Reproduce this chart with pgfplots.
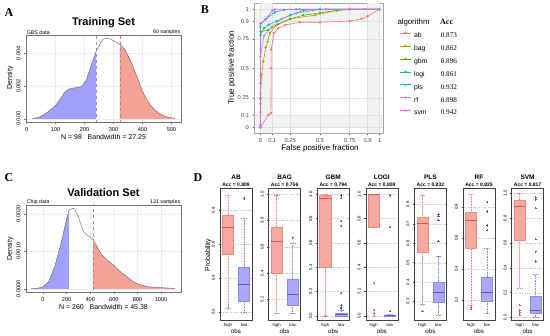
\documentclass[border=0pt]{standalone}
\usepackage{pgfplots}
\pgfplotsset{compat=1.18}
\usepgfplotslibrary{statistics}
\usepackage{fontspec}
\setmainfont{Liberation Sans}
\newfontfamily\serifF{Liberation Serif}
\newcommand\fs[1]{\fontsize{#1}{#1}\selectfont}
\definecolor{cab}{HTML}{F8766D}
\definecolor{cbag}{HTML}{C49A00}
\definecolor{cgbm}{HTML}{53B400}
\definecolor{clogi}{HTML}{00C094}
\definecolor{cpls}{HTML}{00B6EB}
\definecolor{crf}{HTML}{A58AFF}
\definecolor{csvm}{HTML}{FB61D7}
\definecolor{hiF}{HTML}{F5A9A1}
\definecolor{hiE}{HTML}{EE8A80}
\definecolor{hiD}{HTML}{E5534B}
\definecolor{loF}{HTML}{A9A9F8}
\definecolor{loE}{HTML}{8A8AF0}
\definecolor{loD}{HTML}{5555E0}
\definecolor{blueFill}{HTML}{A0A0F8}
\definecolor{redFill}{HTML}{F3A394}
\definecolor{blueDash}{HTML}{8C8CF0}
\definecolor{redDash}{HTML}{E8706A}
\pgfplotsset{
  densax/.style={scale only axis, width=155pt, height=87pt, anchor=south west,
    axis line style={black!55, line width=0.5pt}, tick align=outside, major tick length=2pt,
    tick style={black!55, line width=0.4pt}, xtick pos=bottom, ytick pos=left,
    tick label style={font=\fs{5.6}}, yticklabel style={rotate=90, anchor=south},
    scaled ticks=false, /pgf/number format/assume math mode=true, /pgf/number format/1000 sep={},
    grid=major, grid style={black!8, line width=0.3pt}},
  dax/.style={scale only axis, width=32pt, height=131.7pt, anchor=south west,
    xmin=0.5, xmax=2.5, xtick={1,2}, xticklabels={high,low},
    axis line style={black!75, line width=0.6pt}, tick align=outside, major tick length=1.5pt,
    tick style={black!75, line width=0.4pt}, xtick pos=bottom, ytick pos=left,
    tick label style={font=\fs{4.3}}, yticklabel style={rotate=90, anchor=south},
    xticklabel style={yshift=1.2pt},
    yticklabel={\pgfmathprintnumber[fixed,fixed zerofill,precision=1]{\tick}},
    scaled ticks=false, /pgf/number format/assume math mode=true,
    ymajorgrids, grid style={black!20, dash pattern=on 1.5pt off 1pt, line width=0.3pt},
    boxplot/draw direction=y, boxplot/box extend=0.7, boxplot/whisker extend=0.35},
  hiBox/.style={fill=hiF, draw=hiE, line width=0.4pt, mark=+, mark size=1.1pt, mark options={solid, draw=hiD},
    boxplot/draw direction=y,
    boxplot/every median/.style={draw=hiD, line width=0.9pt},
    boxplot/every whisker/.style={dash pattern=on 0.8pt off 0.8pt}},
  loBox/.style={fill=loF, draw=loE, line width=0.4pt, mark=+, mark size=1.1pt, mark options={solid, draw=loD},
    boxplot/draw direction=y,
    boxplot/every median/.style={draw=loD, line width=0.9pt},
    boxplot/every whisker/.style={dash pattern=on 0.8pt off 0.8pt}},
  roc/.style={line width=0.6pt, mark=*, mark size=0.85pt},
}
\begin{document}
\begin{tikzpicture}
\useasboundingbox (0pt,0pt) rectangle (550pt,336pt);
% ================= Panel A =================
\begin{axis}[densax, name=axA, at={(26pt,214pt)}, xmin=-2, xmax=533, ymin=-0.000196, ymax=0.0051,
  xtick={0,100,200,300,400,500}, ytick={0,0.002,0.004}, yticklabels={0.000,0.002,0.004}]
\addplot[fill=blueFill, draw=none] coordinates {(20,0.00002) (40,0.00008) (60,0.00025) (80,0.0005) (100,0.0008) (120,0.0013) (130,0.00158) (145,0.0018) (160,0.00187) (175,0.0019) (190,0.00197) (205,0.0023) (220,0.0031) (240,0.0041)} \closedcycle;
\addplot[fill=redFill, draw=none] coordinates {(322,0.00453) (340,0.0042) (360,0.0035) (380,0.0026) (400,0.00168) (420,0.001) (440,0.00058) (460,0.0003) (480,0.00013) (500,0.00005) (512,0.00002)} \closedcycle;
\addplot[black!55, line width=0.5pt] coordinates {(20,0.00002) (40,0.00008) (60,0.00025) (80,0.0005) (100,0.0008) (120,0.0013) (130,0.00158) (145,0.0018) (160,0.00187) (175,0.0019) (190,0.00197) (205,0.0023) (220,0.0031) (240,0.0041) (255,0.0046) (265,0.00485) (276,0.0049) (290,0.00485) (305,0.0047) (322,0.00453) (340,0.0042) (360,0.0035) (380,0.0026) (400,0.00168) (420,0.001) (440,0.00058) (460,0.0003) (480,0.00013) (500,0.00005) (512,0.00002)};
\addplot[blueDash, dashed, line width=0.5pt] coordinates {(240,-0.001) (240,0.01)};
\addplot[redDash, dashed, line width=0.5pt] coordinates {(322,-0.001) (322,0.01)};
\end{axis}
\node[font=\fs{5.3}, anchor=south west, inner sep=0.6pt] at (axA.north west) {GBS data};
\node[font=\fs{5.3}, anchor=south east, inner sep=0.6pt] at (axA.north east) {60 samples};
\node[font=\bfseries\fs{11}] at (103.5pt,313pt) {Training Set};
\node[font=\fs{7}] at (103.5pt,199pt) {N = 98\ \ \ Bandwidth = 27.25};
\node[font=\fs{7}, rotate=90] at (10pt,258pt) {Density};
\node[font=\serifF\bfseries\fs{12}] at (9pt,323pt) {A};
% ================= Panel C =================
\begin{axis}[densax, name=axC, at={(26pt,44pt)}, xmin=-144, xmax=1169, ymin=-0.000086, ymax=0.002236,
  xtick={0,200,400,600,800,1000}, ytick={0,0.001,0.002}, yticklabels={0.0000,0.0010,0.0020}]
\addplot[fill=blueFill, draw=none] coordinates {(-100,0.000003) (-50,0.00001) (0,0.00005) (50,0.0002) (100,0.0006) (150,0.00118) (200,0.00185) (221,0.0021)} \closedcycle;
\addplot[fill=redFill, draw=none] coordinates {(425,0.0013) (450,0.00117) (475,0.00103) (500,0.0009) (550,0.00075) (600,0.00063) (625,0.00055) (650,0.00047) (700,0.00035) (750,0.00022) (800,0.00013) (850,0.00008) (900,0.00005) (950,0.00004) (1000,0.00003) (1050,0.00002) (1120,0.000005)} \closedcycle;
\addplot[black!55, line width=0.5pt] coordinates {(-100,0.000003) (-50,0.00001) (0,0.00005) (50,0.0002) (100,0.0006) (150,0.00118) (200,0.00185) (221,0.0021) (240,0.00213) (255,0.00215) (270,0.00212) (290,0.002) (310,0.00182) (330,0.00163) (350,0.0015) (375,0.00143) (400,0.00138) (425,0.0013) (450,0.00117) (475,0.00103) (500,0.0009) (550,0.00075) (600,0.00063) (625,0.00055) (650,0.00047) (700,0.00035) (750,0.00022) (800,0.00013) (850,0.00008) (900,0.00005) (950,0.00004) (1000,0.00003) (1050,0.00002) (1120,0.000005)};
\addplot[redDash, dashed, line width=0.5pt] coordinates {(425,-0.001) (425,0.01)};
\end{axis}
\node[font=\fs{5.3}, anchor=south west, inner sep=0.6pt] at (axC.north west) {Chip data};
\node[font=\fs{5.3}, anchor=south east, inner sep=0.6pt] at (axC.north east) {131 samples};
\node[font=\bfseries\fs{11}] at (103.5pt,143pt) {Validation Set};
\node[font=\fs{7}] at (103.5pt,29pt) {N = 260\ \ \ Bandwidth = 45.38};
\node[font=\fs{7}, rotate=90] at (10pt,87pt) {Density};
\node[font=\serifF\bfseries\fs{12}] at (9pt,158pt) {C};
% ================= Panel B =================
\begin{axis}[name=axB, at={(254.5pt,202.8pt)}, anchor=south west, scale only axis, width=128.5pt, height=129.8pt,
  xmin=-0.05, xmax=1.03, ymin=-0.05, ymax=1.05,
  xtick={0,0.1,0.25,0.5,0.75,0.9,1}, xticklabels={0,0.1,0.25,0.5,0.75,0.9,1},
  ytick={0,0.1,0.25,0.5,0.75,0.9,1}, yticklabels={0,0.1,0.25,0.5,0.75,0.9,1},
  axis line style={black!35, line width=0.5pt}, tick align=outside, major tick length=2pt,
  tick style={black!70, line width=0.4pt}, xtick pos=bottom, ytick pos=left,
  tick label style={font=\fs{5.8}, text=black!72}, /pgf/number format/assume math mode=true,
  legend cell align=left,
  legend image code/.code={\draw[mark repeat=2,mark phase=2,#1] plot coordinates {(0pt,2.2pt) (5.7pt,2.2pt) (11.4pt,2.2pt)};},
  legend style={at={(axis description cs:1.127,0.8066)}, anchor=north west, draw=none, fill=none,
    inner sep=0pt, row sep=0pt, font=\fs{6.8},
    nodes={inner sep=0pt, text height=8.6pt, text depth=4.35pt},
    /tikz/every odd column/.append style={column sep=2.6pt}}]
\fill[black!5] (axis cs:0,-0.05) rectangle (axis cs:0.1,1.05);
\fill[black!5] (axis cs:0.9,-0.05) rectangle (axis cs:1,1.05);
\fill[black!5] (axis cs:-0.05,0) rectangle (axis cs:1.03,0.1);
\fill[black!5] (axis cs:-0.05,0.9) rectangle (axis cs:1.03,1);
\pgfplotsinvokeforeach{0,0.1,0.25,0.5,0.75,0.9,1}{
  \addplot[black!12, line width=0.5pt, forget plot] coordinates {(#1,-0.05) (#1,1.05)};
  \addplot[black!12, line width=0.5pt, forget plot] coordinates {(-0.05,#1) (1.03,#1)};
}
\addplot[roc, cab] coordinates {(0,0) (0.066,0.104) (0.088,0.12) (0.09,0.5) (0.09,0.66) (0.115,0.8) (0.15,0.84) (0.21,0.867) (0.33,0.89) (0.5,0.89) (0.75,0.9) (0.85,0.92) (0.9,0.94) (1,1)};
\addlegendentry{\makebox[26.7pt][l]{ab}{\serifF\fs{7.2}0.873}}
\addplot[roc, cbag] coordinates {(0,0) (0,0.25) (0.01,0.45) (0.024,0.556) (0.045,0.68) (0.06,0.725) (0.08,0.8) (0.136,0.867) (0.25,0.92) (0.46,0.95) (0.64,0.99) (0.75,1) (1,1)};
\addlegendentry{\makebox[26.7pt][l]{bag}{\serifF\fs{7.2}0.862}}
\addplot[roc, cgbm] coordinates {(0,0) (0,0.81) (0.066,0.825) (0.15,0.873) (0.25,0.918) (0.36,0.95) (0.5,0.97) (0.64,0.99) (0.75,1) (1,1)};
\addlegendentry{\makebox[26.7pt][l]{gbm}{\serifF\fs{7.2}0.896}}
\addplot[roc, clogi] coordinates {(0,0) (0,0.78) (0.03,0.84) (0.07,0.87) (0.136,0.9) (0.25,0.95) (0.36,0.99) (0.5,1) (1,1)};
\addlegendentry{\makebox[26.7pt][l]{logi}{\serifF\fs{7.2}0.861}}
\addplot[roc, cpls] coordinates {(0,0) (0,0.85) (0.004,0.88) (0.05,0.92) (0.12,0.975) (0.2,0.995) (0.3,1) (1,1)};
\addlegendentry{\makebox[26.7pt][l]{pls}{\serifF\fs{7.2}0.932}}
\addplot[roc, crf] coordinates {(0,0) (0,0.02) (0,0.13) (0,0.37) (0,0.6) (0.03,0.775) (0.094,0.85) (0.18,0.92) (0.3,0.965) (0.44,0.99) (0.55,1) (1,1)};
\addlegendentry{\makebox[26.7pt][l]{rf}{\serifF\fs{7.2}0.898}}
\addplot[roc, csvm] coordinates {(0,0) (0,0.2) (0,0.24) (0,0.28) (0,0.37) (0,0.44) (0,0.66) (0,0.88) (0.038,0.91) (0.066,0.94) (0.1,0.99) (0.12,1) (0.33,1) (0.55,1) (0.75,1) (0.88,1) (1,1)};
\addlegendentry{\makebox[26.7pt][l]{svm}{\serifF\fs{7.2}0.942}}
\end{axis}
\node[font=\fs{8}, rotate=90] at (231.7pt,268pt) {True positive fraction};
\node[font=\fs{8}] at (320pt,188pt) {False positive fraction};
\node[font=\fs{7.8}, anchor=west, inner sep=0pt] at (397.3pt,314pt) {algorithm};
\node[font=\serifF\bfseries\fs{8}, anchor=west, inner sep=0pt] at (440pt,314pt) {Acc};
\node[font=\serifF\bfseries\fs{12}] at (205pt,326pt) {B};
% ================= Panel D =================
\node[font=\serifF\bfseries\fs{12}] at (198pt,158pt) {D};
\node[font=\fs{7}, rotate=90] at (208.3pt,81pt) {Probability};
% AB
\begin{axis}[dax, at={(220pt,16pt)}, ymin=0.151, ymax=0.932, ytick={0.2,0.4,0.6,0.8}]
\addplot[hiBox, boxplot prepared={draw position=1, lower whisker=0.22, lower quartile=0.54, median=0.702, upper quartile=0.773, upper whisker=0.892}] table[row sep=\\, y index=0] {data\\0.22\\};
\addplot[loBox, boxplot prepared={draw position=2, lower whisker=0.2, lower quartile=0.265, median=0.362, upper quartile=0.467, upper whisker=0.757}] table[row sep=\\, y index=0] {data\\0.872\\};
\end{axis}
% BAG
\begin{axis}[dax, at={(268.6pt,16pt)}, ymin=0.042, ymax=1.046, ytick={0.2,0.4,0.6,0.8,1.0}]
\addplot[hiBox, boxplot prepared={draw position=1, lower whisker=0.09, lower quartile=0.4, median=0.64, upper quartile=0.75, upper whisker=0.99}] table[row sep=\\, y index=0] {data\\0.99\\};
\addplot[loBox, boxplot prepared={draw position=2, lower whisker=0.09, lower quartile=0.157, median=0.239, upper quartile=0.355, upper whisker=0.63}] table[row sep=\\, y index=0] {data\\0.67\\};
\end{axis}
% GBM
\begin{axis}[dax, at={(317.2pt,16pt)}, ymin=-0.035, ymax=1.05, ytick={0,0.2,0.4,0.6,0.8,1.0}]
\addplot[hiBox, boxplot prepared={draw position=1, lower whisker=0.0, lower quartile=0.396, median=0.968, upper quartile=0.995, upper whisker=1.0}] table[row sep=\\, y index=0] {data\\0.0\\};
\addplot[loBox, boxplot prepared={draw position=2, lower whisker=0.0, lower quartile=0.0, median=0.008, upper quartile=0.02, upper whisker=0.048}] table[row sep=\\, y index=0] {data\\0.06\\0.07\\0.09\\0.185\\0.74\\0.78\\0.97\\0.99\\};
\end{axis}
% LOGI
\begin{axis}[dax, at={(365.8pt,16pt)}, ymin=-0.035, ymax=1.05, ytick={0,0.2,0.4,0.6,0.8,1.0}]
\addplot[hiBox, boxplot prepared={draw position=1, lower whisker=0.727, lower quartile=0.727, median=1.0, upper quartile=1.0, upper whisker=1.0}] table[row sep=\\, y index=0] {data\\0.27\\0.047\\0.02\\0.0\\};
\addplot[loBox, boxplot prepared={draw position=2, lower whisker=0.0, lower quartile=0.0, median=0.002, upper quartile=0.006, upper whisker=0.01}] table[row sep=\\, y index=0] {data\\0.04\\0.73\\0.99\\};
\end{axis}
% PLS
\begin{axis}[dax, at={(414.4pt,16pt)}, ymin=0.205, ymax=0.883, ytick={0.3,0.4,0.5,0.6,0.7,0.8}]
\addplot[hiBox, boxplot prepared={draw position=1, lower whisker=0.286, lower quartile=0.553, median=0.703, upper quartile=0.732, upper whisker=0.849}] table[row sep=\\, y index=0] {data\\0.25\\};
\addplot[loBox, boxplot prepared={draw position=2, lower whisker=0.23, lower quartile=0.295, median=0.345, upper quartile=0.4, upper whisker=0.533}] table[row sep=\\, y index=0] {data\\0.61\\0.72\\0.74\\0.75\\};
\end{axis}
% RF
\begin{axis}[dax, at={(463pt,16pt)}, ymin=0.069, ymax=0.92, ytick={0.2,0.4,0.6,0.8}]
\addplot[hiBox, boxplot prepared={draw position=1, lower whisker=0.166, lower quartile=0.53, median=0.71, upper quartile=0.763, upper whisker=0.88}] table[row sep=\\, y index=0] {data\\0.14\\0.15\\};
\addplot[loBox, boxplot prepared={draw position=2, lower whisker=0.11, lower quartile=0.19, median=0.245, upper quartile=0.345, upper whisker=0.53}] table[row sep=\\, y index=0] {data\\0.65\\0.68\\0.77\\0.83\\};
\end{axis}
% SVM
\begin{axis}[dax, at={(511.6pt,16pt)}, ymin=-0.02, ymax=1.04, ytick={0,0.2,0.4,0.6,0.8,1.0}]
\addplot[hiBox, boxplot prepared={draw position=1, lower whisker=0.237, lower quartile=0.623, median=0.892, upper quartile=0.946, upper whisker=1.0}] table[row sep=\\, y index=0] {data\\0.1\\0.06\\0.04\\0.02\\};
\addplot[loBox, boxplot prepared={draw position=2, lower whisker=0.0, lower quartile=0.035, median=0.06, upper quartile=0.17, upper whisker=0.35}] table[row sep=\\, y index=0] {data\\0.45\\0.53\\0.63\\0.88\\0.95\\0.97\\};
\end{axis}
% D titles
\foreach \cx/\nm/\acc in {236/AB/0.809, 284.6/BAG/0.756, 333.2/GBM/0.794, 381.8/LOGI/0.809, 430.4/PLS/0.832, 479/RF/0.825, 527.6/SVM/0.817} {
  \node[font=\bfseries\fs{6.5}] at (\cx pt,158.3pt) {\nm};
  \node[font=\bfseries\fs{5}] at (\cx pt,151.7pt) {Acc = \acc};
  \node[font=\fs{6.2}] at (\cx pt,4.6pt) {obs};
}
\end{tikzpicture}
\end{document}
